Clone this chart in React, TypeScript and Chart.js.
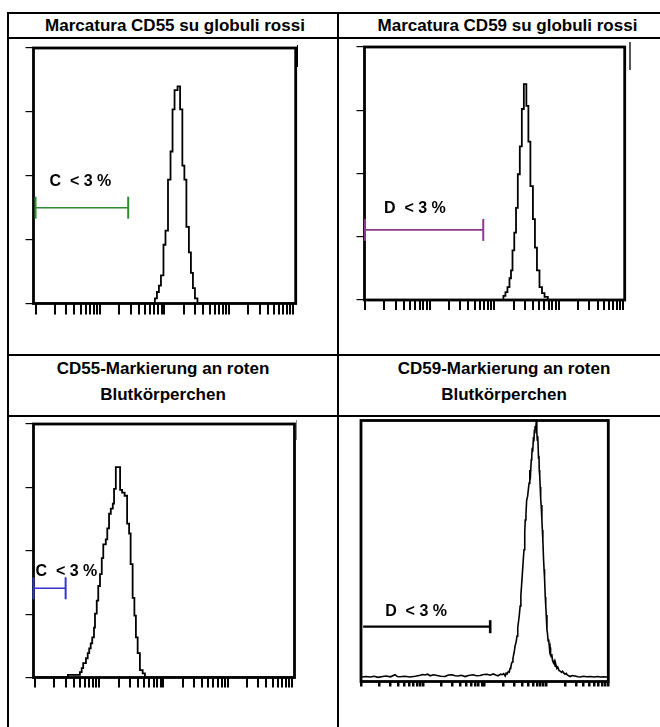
import React, { useEffect, useRef } from "react";
import { Chart, registerables } from "chart.js";

Chart.register(...registerables);

// ---------- texts ----------
const TITLES_ROW1 = ["Marcatura CD55 su globuli rossi", "Marcatura CD59 su globuli rossi"];
const TITLES_ROW2 = [
  ["CD55-Markierung an roten", "Blutkörperchen"],
  ["CD59-Markierung an roten", "Blutkörperchen"],
];
const GATE_LABELS = ["C  < 3 %", "D  < 3 %", "C  < 3 %", "D  < 3 %"];

// ---------- axes (4 log decades on 1024 channels) ----------
const DECADES = [0, 1, 2, 3];
const DECADE_MULTIPLIERS = [1, 2, 3, 4, 5, 6, 7, 8, 9];
const CHANNELS_PER_DECADE = 256;
const Y_TICKS = [0, 25, 50, 75, 100];

// ---------- histograms: bin left edges (channel) and counts (% of max scale) ----------
const P1_EDGES = [474, 482, 490, 498, 508, 516, 526, 536, 544, 552, 564, 574, 583, 591, 599, 609, 617, 625, 633, 643];
const P1_COUNTS = [2, 4.5, 7, 11, 23, 28.5, 48.5, 59.5, 76, 83.5, 85, 76, 54, 48.5, 30, 20, 12, 6, 2, 0];

const P2_EDGES = [549, 557, 565, 573, 579, 585, 592, 599, 606, 614, 622, 630, 640, 648, 656, 666, 674, 682, 692, 702, 712, 725];
const P2_COUNTS = [1.6, 3.1, 5.1, 8.6, 11.7, 19.6, 26.6, 36.4, 49.7, 60.7, 75.5, 85.3, 76.7, 62.6, 45, 32, 20.7, 11.7, 5.1, 2.7, 1.2, 0];

const P3_EDGES = [131, 179, 186, 192, 203, 210, 216, 222, 228, 235, 239, 246, 252, 259, 266, 272, 282, 288, 295, 302, 310, 315, 322, 339, 347, 357, 367, 375, 381, 389, 396, 402, 409, 418, 429, 438];
const P3_COUNTS = [1, 2.1, 3.7, 5.7, 7.6, 9.6, 11.5, 13.5, 15.8, 19.7, 25.2, 30.3, 36.1, 40.8, 47.1, 52.5, 54.5, 58.8, 64.6, 66.6, 68.6, 74.4, 83, 74, 72.9, 71.7, 60.7, 56.8, 44.7, 31.4, 24.4, 15.8, 9.6, 2.9, 1.6, 0];

// panel 4: raw (noisy) trace, channel and count
const P4_CHANNELS = [4, 20, 37, 55, 70, 90, 104, 122, 141, 150, 162, 180, 203, 225, 245, 255, 265, 276, 286, 300, 315, 330, 348, 362, 377, 390, 402, 415, 431, 445, 464, 478, 493, 508, 522, 535, 547, 558, 568, 578, 585, 591, 597,
  601, 605, 610, 614, 617, 620, 623, 626, 629, 631, 634, 638, 642, 646, 649, 652, 655, 659, 662, 665, 669, 673, 675, 677, 679, 680, 683, 686, 690, 694, 696, 699, 702, 705, 707, 709, 711, 714, 716, 718, 720, 721, 723, 726,
  728, 730, 732, 735, 737, 738, 740, 742, 744, 746, 749, 751, 753, 756, 758, 760, 763, 765, 767, 770, 772, 775, 777, 781, 783, 785, 788, 790, 793, 797, 800, 804, 807, 811, 815, 820, 825, 830, 835, 839, 845, 850, 854, 860, 866, 875, 887, 898, 908, 920, 935, 950, 965, 980, 991, 1005, 1020];
const P4_COUNTS = [1.7, 1.9, 1.7, 2.0, 1.6, 1.9, 2.1, 1.8, 2.6, 1.9, 1.8, 2.0, 1.7, 2.0, 2.4, 2.7, 2.5, 2.8, 2.2, 2.6, 2.3, 2.0, 1.9, 2.5, 2.6, 2.2, 2.1, 2.4, 1.9, 2.3, 2.6, 2.2, 2.3, 2.7, 2.8, 2.4, 2.9, 2.5, 2.2, 2.8, 2.6, 3.0, 2.1,
  3.2, 2.9, 3.8, 3.6, 5.0, 5.2, 6.8, 7.5, 8.6, 9.8, 11.0, 13.6, 15.0, 17.4, 20.5, 22.8, 25.0, 28.9, 33.0, 37.0, 42.5, 48.1, 50.5, 54.2, 57.0, 61.9, 64.0, 69.5, 71.0, 74.5, 76.0, 81.0, 79.5, 84.9, 86.0, 89.5, 88.0, 93.7, 92.0, 96.4, 95.0, 97.9, 96.5, 99.8,
  95.5, 92.5, 94.0, 85.6, 86.5, 81.0, 79.0, 74.5, 70.0, 67.6, 61.9, 58.0, 54.2, 46.6, 43.0, 39.7, 32.4, 29.0, 25.5, 19.7, 18.5, 15.5, 16.2, 12.1, 13.0, 10.0, 9.4, 10.5, 8.0, 7.1, 7.8, 5.9, 6.5, 5.0, 5.5, 4.2, 4.0, 3.5, 3.9, 3.3, 2.8, 3.1, 2.5, 2.2, 1.9, 2.3, 2.1, 1.8, 1.7, 2.0, 1.8, 1.9, 1.7, 1.9, 1.7, 1.8, 1.7];

// ---------- gates (markers) ----------
const GATE_START = [0, 0, -6, 9];
const GATE_END = [368, 469, 122, 535];
const GATE_LEVEL = [37.5, 27.7, 35.2, 21];

const TICK_CHANNELS = DECADES.flatMap((d) =>
  DECADE_MULTIPLIERS.map((m) => CHANNELS_PER_DECADE * (d + Math.log10(m)))
).concat([CHANNELS_PER_DECADE * DECADES.length]);

const FONT = '"Liberation Sans Narrow", "Arial Narrow", "Liberation Sans", Arial, sans-serif';

type PanelCfg = {
  l: number; t: number; r: number; b: number;
  xMin: number; xMax: number;
  yTick: number; xTick: number; xTickWidth: number;
  edges: number[]; counts: number[]; stepped: boolean; lineWidth: number;
  gate: number; gateColor: string; gateWidth: number; gateEnds: [number, number];
  labelDx: number; labelDy: number;
};

const PANELS: PanelCfg[] = [
  { l: 33.5, t: 45.5, r: 295.7, b: 303.5, xMin: -8, xMax: 1033, yTick: 8, xTick: 11, xTickWidth: 2,
    edges: P1_EDGES, counts: P1_COUNTS, stepped: true, lineWidth: 1.8,
    gate: 0, gateColor: "#2f8a34", gateWidth: 1.6, gateEnds: [11, 11], labelDx: 14, labelDy: 22 },
  { l: 364.5, t: 44.5, r: 624.7, b: 300, xMin: -2, xMax: 1030, yTick: 8, xTick: 10, xTickWidth: 2,
    edges: P2_EDGES, counts: P2_COUNTS, stepped: true, lineWidth: 1.8,
    gate: 1, gateColor: "#8c3a8c", gateWidth: 1.6, gateEnds: [11, 11], labelDx: 19, labelDy: 17 },
  { l: 33.5, t: 421.5, r: 294.5, b: 677.5, xMin: -6, xMax: 1034, yTick: 8, xTick: 10, xTickWidth: 2,
    edges: P3_EDGES, counts: P3_COUNTS, stepped: true, lineWidth: 1.8,
    gate: 2, gateColor: "#3535cc", gateWidth: 1.6, gateEnds: [11, 11], labelDx: 2, labelDy: 12 },
  { l: 361, t: 420.5, r: 608.3, b: 681.5, xMin: 0, xMax: 1024, yTick: 0, xTick: 5, xTickWidth: 2.5,
    edges: P4_CHANNELS, counts: P4_COUNTS, stepped: false, lineWidth: 1.6,
    gate: 3, gateColor: "#000000", gateWidth: 2.2, gateEnds: [0, 6.5], labelDx: 22, labelDy: 11 },
];

const framePlugin = {
  id: "frame",
  beforeDatasetsDraw(chart: any) {
    const { ctx, chartArea: a } = chart;
    ctx.save();
    ctx.lineWidth = 2.8;
    ctx.strokeStyle = "#000";
    ctx.strokeRect(a.left, a.top, a.right - a.left, a.bottom - a.top);
    ctx.restore();
  },
  afterDatasetsDraw(chart: any, _args: any, opts: any) {
    const { ctx } = chart;
    const xs = chart.scales.x;
    const ys = chart.scales.y;
    ctx.save();
    ctx.font = `bold 16px ${FONT}`;
    ctx.fillStyle = "#000";
    ctx.textBaseline = "alphabetic";
    ctx.fillText(
      opts.label,
      xs.getPixelForValue(opts.start) + opts.dx,
      ys.getPixelForValue(opts.level) - opts.dy
    );
    ctx.restore();
  },
};

function Panel({ cfg }: { cfg: PanelCfg }) {
  const ref = useRef<HTMLCanvasElement>(null);
  const cl = Math.floor(cfg.l) - 30;
  const ct = Math.floor(cfg.t) - 10;
  const cw = Math.ceil(cfg.r) + 20 - cl;
  const ch = Math.ceil(cfg.b) + 30 - ct;

  useEffect(() => {
    if (!ref.current) return;
    const g = cfg.gate;
    const histData = [{ x: 0, y: 0 }]
      .concat(cfg.edges.map((e, i) => ({ x: e, y: cfg.counts[i] })))
      .concat(cfg.stepped ? [{ x: 1024, y: 0 }] : []);
    const chart = new Chart(ref.current, {
      type: "line",
      data: {
        datasets: [
          {
            data: cfg.stepped ? histData : cfg.edges.map((e, i) => ({ x: e, y: cfg.counts[i] })),
            borderColor: "#000",
            borderWidth: cfg.lineWidth,
            stepped: cfg.stepped ? "before" : false,
            pointRadius: 0,
            tension: 0,
            fill: false,
          } as any,
          {
            data: [
              { x: GATE_START[g], y: GATE_LEVEL[g] },
              { x: GATE_END[g], y: GATE_LEVEL[g] },
            ],
            borderColor: cfg.gateColor,
            borderWidth: cfg.gateWidth,
            pointStyle: "line",
            rotation: 90,
            pointRadius: cfg.gateEnds,
            pointBorderColor: cfg.gateColor,
            pointBorderWidth: cfg.gateWidth + 0.4,
            clip: false,
          } as any,
        ],
      },
      options: {
        responsive: false,
        animation: false,
        devicePixelRatio: 1,
        events: [],
        layout: {
          padding: {
            left: cfg.l - cl - cfg.yTick,
            top: cfg.t - ct,
            right: cl + cw - cfg.r,
            bottom: ct + ch - cfg.b - cfg.xTick,
          },
        },
        plugins: {
          legend: { display: false },
          tooltip: { enabled: false },
          frame: { label: GATE_LABELS[g], start: GATE_START[g], level: GATE_LEVEL[g], dx: cfg.labelDx, dy: cfg.labelDy },
        } as any,
        scales: {
          x: {
            type: "linear",
            min: cfg.xMin,
            max: cfg.xMax,
            afterBuildTicks: (s: any) => {
              s.ticks = TICK_CHANNELS.map((v) => ({ value: v }));
            },
            ticks: { display: false, autoSkip: false },
            border: { display: false },
            grid: {
              drawOnChartArea: false,
              drawTicks: true,
              tickLength: cfg.xTick,
              color: "#000",
              lineWidth: cfg.xTickWidth,
            },
          },
          y: {
            type: "linear",
            display: cfg.yTick > 0,
            min: 0,
            max: 100,
            afterBuildTicks: (s: any) => {
              s.ticks = Y_TICKS.map((v) => ({ value: v }));
            },
            ticks: { display: false },
            border: { display: false },
            grid: {
              drawOnChartArea: false,
              drawTicks: true,
              tickLength: cfg.yTick,
              color: "#000",
              lineWidth: 1.2,
            },
          },
        },
      },
      plugins: [framePlugin],
    } as any);
    return () => chart.destroy();
  }, []);

  return (
    <canvas
      ref={ref}
      width={cw}
      height={ch}
      style={{ position: "absolute", left: cl, top: ct, width: cw, height: ch }}
    />
  );
}

const line = (s: React.CSSProperties): React.CSSProperties => ({ position: "absolute", background: "#000", ...s });

export default function App() {
  const titleStyle: React.CSSProperties = {
    position: "absolute",
    width: 400,
    textAlign: "center",
    fontFamily: FONT,
    fontWeight: "bold",
    fontSize: 17,
    color: "#000",
    whiteSpace: "nowrap",
  };
  return (
    <div style={{ position: "fixed", left: 0, top: 0, width: 660, height: 727, overflow: "hidden", background: "#fff" }}>
      {/* table grid */}
      <div style={line({ left: 7, top: 12, width: 660, height: 2 })} />
      <div style={line({ left: 7, top: 37, width: 660, height: 2 })} />
      <div style={line({ left: 7, top: 354, width: 660, height: 2 })} />
      <div style={line({ left: 7, top: 415, width: 660, height: 2 })} />
      <div style={line({ left: 7, top: 12, width: 2, height: 720 })} />
      <div style={line({ left: 337, top: 12, width: 2, height: 720 })} />

      {/* headers */}
      <div style={{ ...titleStyle, left: 175 - 200, top: 13, lineHeight: "25px" }}>{TITLES_ROW1[0]}</div>
      <div style={{ ...titleStyle, left: 507.5 - 200, top: 13, lineHeight: "25px" }}>{TITLES_ROW1[1]}</div>
      <div style={{ ...titleStyle, left: 163 - 200, top: 356, lineHeight: "25.5px" }}>
        {TITLES_ROW2[0][0]}<br />{TITLES_ROW2[0][1]}
      </div>
      <div style={{ ...titleStyle, left: 504 - 200, top: 356, lineHeight: "25.5px" }}>
        {TITLES_ROW2[1][0]}<br />{TITLES_ROW2[1][1]}
      </div>

      {PANELS.map((p, i) => (
        <Panel key={i} cfg={p} />
      ))}

      {/* scan artefacts next to the plot frames */}
      <div style={line({ left: 296.5, top: 45, width: 1.5, height: 22 })} />
      <div style={line({ left: 629, top: 42, width: 1.5, height: 28, background: "#555" })} />
      <div style={line({ left: 296, top: 420, width: 1, height: 20, background: "#888" })} />
    </div>
  );
}
